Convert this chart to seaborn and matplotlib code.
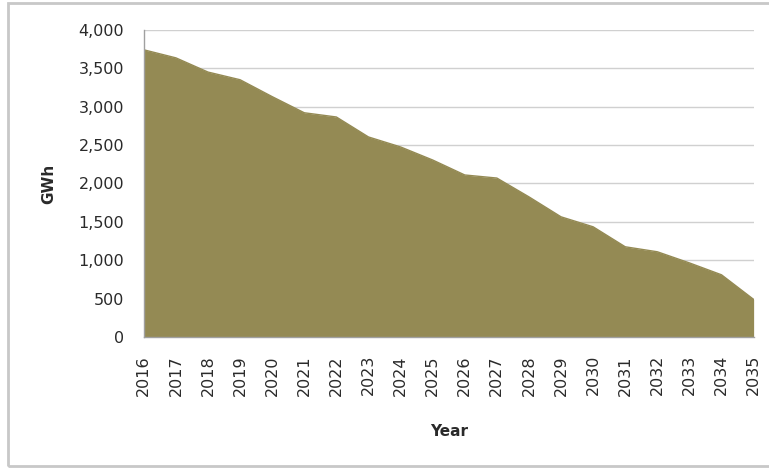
import matplotlib
matplotlib.use("Agg")
import matplotlib.pyplot as plt
import seaborn as sns
import pandas as pd
from matplotlib.ticker import FuncFormatter, MultipleLocator
from matplotlib.patches import Rectangle

years = list(range(2016, 2036))
gwh = [3740, 3635, 3450, 3350, 3130, 2920, 2865, 2605, 2475, 2305,
       2110, 2070, 1825, 1565, 1435, 1175, 1110, 965, 810, 490]

df = pd.DataFrame({"Year": years, "GWh": gwh})

sns.set_style("white")
plt.rcParams['font.family'] = ['DejaVu Sans']

fig = plt.figure(figsize=(7.69, 4.69), dpi=100)
ax = fig.add_axes([0.187, 0.2814, 0.793, 0.655])

color = "#948A54"
sns.lineplot(data=df, x="Year", y="GWh", ax=ax, color=color, linewidth=1)
ax.fill_between(df["Year"], df["GWh"], 0, color=color, linewidth=0, zorder=2)

ax.set_xlim(2016, 2035)
ax.set_ylim(0, 4000)
ax.yaxis.set_major_locator(MultipleLocator(500))
ax.yaxis.set_major_formatter(FuncFormatter(lambda v, p: f"{int(v):,}"))
ax.set_xticks(years)
ax.set_xticklabels([str(y) for y in years], rotation=90)
ax.grid(axis="y", color="#d0d0d0", linewidth=1, zorder=0)
ax.set_axisbelow(True)

for s in ["top", "right"]:
    ax.spines[s].set_visible(False)
for s in ["left", "bottom"]:
    ax.spines[s].set_color("#a0a0a0")
    ax.spines[s].set_linewidth(1)
    ax.spines[s].set_zorder(3)

ax.tick_params(axis="both", which="major", direction="out", length=4,
               color="#a0a0a0", labelsize=11.5, labelcolor="#2a2a2a")
ax.tick_params(axis="y", pad=10)
ax.tick_params(axis="x", pad=9)

ax.set_xlabel("Year", fontsize=11, fontweight="bold", color="#2a2a2a", labelpad=20)
ax.set_ylabel("GWh", fontsize=11, fontweight="bold", color="#2a2a2a", labelpad=16)

fig.patches.append(Rectangle((8/769, 3/469), 1.0, 1 - 6/469, transform=fig.transFigure,
                             fill=False, edgecolor="#c8c8c8", linewidth=2))

fig.savefig("out.png", dpi=100)
